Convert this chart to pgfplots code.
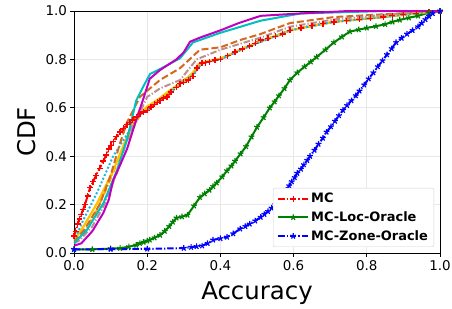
\documentclass[border=0pt]{standalone}
\usepackage{pgfplots}
\pgfplotsset{compat=1.18}
\usepackage{fontspec}
\setmainfont{DejaVu Sans}
\definecolor{mcc}{HTML}{00BFBF}
\definecolor{mcm}{HTML}{BF00BF}
\definecolor{peru}{HTML}{D2691E}
\definecolor{rosy}{HTML}{BC8F8F}
\definecolor{orng}{HTML}{FFA500}
\definecolor{gld}{HTML}{FFC000}
\definecolor{dsky}{HTML}{1EB4E6}
\definecolor{dgreen}{HTML}{008000}
\tikzset{mdash/.style={dash pattern=on 7pt off 3pt}, mdashdot/.style={dash pattern=on 6.5pt off 2pt on 1.2pt off 2pt}}
\begin{document}
\begin{tikzpicture}
\begin{axis}[
  scale only axis, width=366bp, height=242bp,
  xmin=0, xmax=1, ymin=0, ymax=1,
  xtick={0,0.2,...,1.0}, ytick={0,0.2,...,1.0},
  xticklabel style={/pgf/number format/.cd,fixed,fixed zerofill,precision=1},
  yticklabel style={/pgf/number format/.cd,fixed,fixed zerofill,precision=1},
  /pgf/number format/assume math mode=true,
  tick label style={font=\fontsize{13.5}{16}\selectfont},
  label style={font=\fontsize{24.5}{28}\selectfont},
  xlabel={Accuracy}, ylabel={CDF},
  xlabel style={yshift=-5bp},
  ylabel style={yshift=3bp},
  grid=major, major grid style={gray!18, line width=0.8pt},
  tick align=outside, xtick pos=left, ytick pos=left,
  major tick length=3.5bp,
  axis line style={black, line width=0.8pt},
  every tick/.style={black, line width=0.8pt},
  legend style={at={(0.984,0.025)}, anchor=south east, draw=gray!35, rounded corners=2pt,
    font=\fontsize{13}{15}\selectfont\bfseries, row sep=3.5pt, inner xsep=4pt, inner ysep=3pt},
  legend image code/.code={\draw[mark repeat=2,mark phase=2,#1] plot coordinates {(0bp,0bp) (15bp,0bp) (30bp,0bp)};},
  legend cell align=left,
]
\addplot[red, line width=2pt, mdashdot, mark=+, mark size=3pt, mark options={solid, line width=1.3pt}] coordinates {
(0,0.07) (0.005,0.09) (0.01,0.12) (0.015,0.14) (0.02,0.16) (0.025,0.18) (0.03,0.2) (0.037,0.235) (0.044,0.27) (0.052,0.295) (0.06,0.32) (0.07,0.35) (0.08,0.38) (0.088,0.405) (0.095,0.43) (0.101,0.445) (0.107,0.46) (0.116,0.48) (0.126,0.50) (0.135,0.515) (0.145,0.53) (0.153,0.54) (0.16,0.55) (0.17,0.562) (0.18,0.575) (0.19,0.583) (0.2,0.59) (0.21,0.603) (0.22,0.615) (0.228,0.622) (0.235,0.63) (0.245,0.64) (0.254,0.645) (0.265,0.665) (0.28,0.685) (0.29,0.70) (0.30,0.705) (0.312,0.715) (0.325,0.73) (0.336,0.765) (0.35,0.785) (0.36,0.787) (0.37,0.79) (0.385,0.797) (0.40,0.80) (0.42,0.815) (0.44,0.83) (0.46,0.843) (0.48,0.855) (0.495,0.867) (0.51,0.88) (0.53,0.887) (0.55,0.895) (0.57,0.905) (0.59,0.92) (0.62,0.93) (0.65,0.94) (0.68,0.948) (0.71,0.955) (0.745,0.96) (0.78,0.965) (0.81,0.97) (0.845,0.975) (0.87,0.98) (0.9,0.985) (0.935,0.99) (0.97,0.996) (1.0,1.0)};
\addlegendentry{MC}
\addplot[dgreen, line width=2pt, solid, mark=star, mark size=3pt, mark options={solid, line width=1.2pt}] coordinates {
(0,0.015) (0.05,0.015) (0.1,0.018) (0.126,0.02) (0.15,0.026) (0.17,0.033) (0.18,0.04) (0.19,0.045) (0.2,0.05) (0.207,0.054) (0.22,0.063) (0.235,0.074) (0.248,0.09) (0.26,0.11) (0.27,0.128) (0.28,0.145) (0.295,0.15) (0.31,0.157) (0.328,0.195) (0.344,0.23) (0.357,0.245) (0.37,0.26) (0.38,0.275) (0.39,0.29) (0.405,0.315) (0.418,0.34) (0.43,0.36) (0.44,0.38) (0.455,0.41) (0.47,0.44) (0.485,0.48) (0.5,0.52) (0.518,0.56) (0.535,0.60) (0.548,0.625) (0.56,0.65) (0.575,0.68) (0.59,0.715) (0.61,0.745) (0.63,0.77) (0.647,0.79) (0.663,0.81) (0.687,0.84) (0.71,0.87) (0.732,0.893) (0.754,0.915) (0.778,0.923) (0.80,0.93) (0.825,0.937) (0.85,0.945) (0.87,0.955) (0.89,0.963) (0.915,0.972) (0.94,0.98) (0.97,0.993) (1,1)};
\addlegendentry{MC-Loc-Oracle}
\addplot[blue, line width=2pt, mdashdot, mark=star, mark size=3pt, mark options={solid, line width=1.2pt}] coordinates {
(0,0.015) (0.1,0.016) (0.2,0.017) (0.30,0.02) (0.32,0.024) (0.335,0.027) (0.35,0.03) (0.365,0.04) (0.38,0.054) (0.4,0.06) (0.418,0.066) (0.435,0.08) (0.454,0.10) (0.468,0.11) (0.48,0.12) (0.495,0.133) (0.51,0.148) (0.52,0.16) (0.53,0.172) (0.54,0.186) (0.55,0.2) (0.558,0.215) (0.565,0.23) (0.572,0.245) (0.58,0.26) (0.588,0.278) (0.595,0.295) (0.603,0.312) (0.61,0.33) (0.62,0.347) (0.628,0.365) (0.637,0.383) (0.645,0.40) (0.657,0.425) (0.668,0.45) (0.68,0.475) (0.69,0.50) (0.702,0.522) (0.713,0.545) (0.724,0.568) (0.735,0.59) (0.746,0.61) (0.758,0.63) (0.77,0.65) (0.78,0.67) (0.793,0.695) (0.805,0.72) (0.818,0.745) (0.83,0.77) (0.843,0.795) (0.855,0.82) (0.868,0.845) (0.88,0.87) (0.895,0.888) (0.91,0.905) (0.925,0.92) (0.94,0.935) (0.95,0.95) (0.96,0.965) (0.97,0.978) (0.98,0.99) (1,1)};
\addlegendentry{MC-Zone-Oracle}
\addplot[forget plot, orng, line width=2pt, mdashdot] coordinates {
(0,0.04) (0.03,0.09) (0.06,0.17) (0.09,0.27) (0.12,0.38) (0.15,0.48) (0.18,0.57) (0.21,0.61) (0.235,0.635) (0.26,0.665) (0.29,0.705) (0.325,0.74) (0.34,0.778) (0.35,0.785) (0.40,0.803) (0.48,0.857) (0.55,0.897) (0.59,0.92) (0.71,0.955) (0.845,0.975) (0.97,0.996) (1,1)};
\addplot[forget plot, gld, line width=2.2pt, solid] coordinates {
(0,0.05) (0.025,0.107) (0.063,0.205) (0.107,0.34) (0.145,0.48) (0.17,0.56) (0.2,0.605) (0.235,0.64) (0.26,0.67) (0.3,0.71) (0.325,0.745) (0.34,0.78) (0.35,0.787) (0.40,0.803) (0.48,0.857) (0.55,0.897) (0.59,0.92) (0.71,0.955) (0.845,0.975) (0.97,0.996) (1,1)};
\addplot[forget plot, dsky, line width=2pt, dash pattern=on 2pt off 2pt] coordinates {
(0,0.05) (0.025,0.135) (0.063,0.25) (0.107,0.40) (0.145,0.49) (0.18,0.57) (0.235,0.63) (0.26,0.66) (0.29,0.70) (0.325,0.735) (0.35,0.785) (0.40,0.80) (0.48,0.855) (0.55,0.895) (0.59,0.92) (0.71,0.955) (0.845,0.975) (0.97,0.996) (1,1)};
\addplot[forget plot, peru, line width=2pt, mdash] coordinates {
(0,0.045) (0.03,0.1) (0.07,0.2) (0.1,0.32) (0.125,0.45) (0.145,0.54) (0.18,0.645) (0.235,0.715) (0.29,0.764) (0.344,0.84) (0.40,0.85) (0.454,0.88) (0.51,0.905) (0.59,0.95) (0.71,0.975) (0.89,0.99) (0.97,1.0) (1,1)};
\addplot[forget plot, rosy, line width=2pt, mdashdot] coordinates {
(0,0.04) (0.016,0.053) (0.05,0.11) (0.08,0.19) (0.117,0.33) (0.145,0.47) (0.2,0.645) (0.235,0.68) (0.29,0.715) (0.335,0.80) (0.40,0.84) (0.51,0.89) (0.59,0.935) (0.71,0.965) (0.89,0.99) (0.97,1.0) (1,1)};
\addplot[forget plot, mcc, line width=2pt, solid] coordinates {
(0,0.04) (0.035,0.095) (0.08,0.205) (0.117,0.34) (0.145,0.47) (0.17,0.63) (0.19,0.69) (0.208,0.74) (0.235,0.76) (0.29,0.805) (0.325,0.87) (0.40,0.91) (0.51,0.96) (0.62,0.99) (0.85,1.0) (1,1)};
\addplot[forget plot, mcm, line width=2pt, solid] coordinates {
(0,0.03) (0.02,0.04) (0.05,0.09) (0.08,0.165) (0.095,0.22) (0.107,0.30) (0.125,0.36) (0.145,0.43) (0.17,0.55) (0.19,0.64) (0.207,0.72) (0.235,0.756) (0.28,0.80) (0.3,0.83) (0.317,0.873) (0.344,0.89) (0.40,0.92) (0.45,0.95) (0.51,0.98) (0.62,0.99) (0.75,1.0) (1,1)};
\end{axis}
\pgfresetboundingbox
\path (-74bp,-56bp) rectangle (378bp,253bp);
\end{tikzpicture}
\end{document}
